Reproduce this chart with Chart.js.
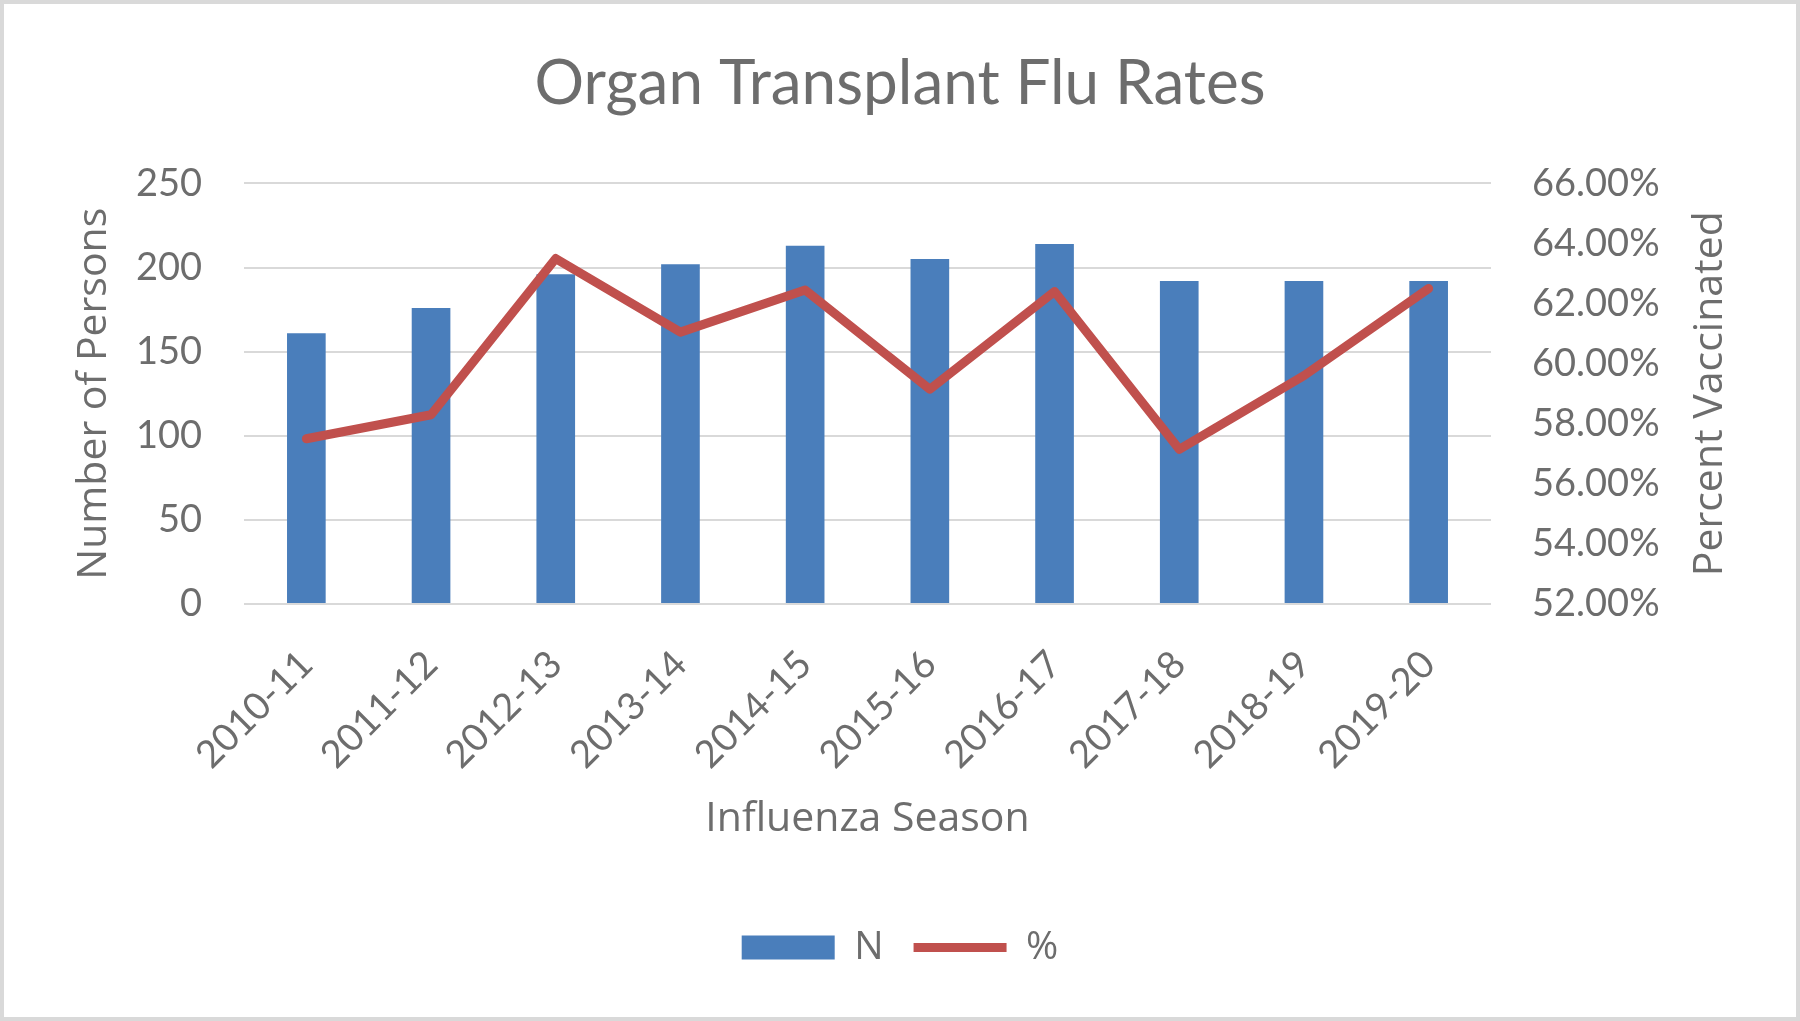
<!DOCTYPE html>
<html>
<head>
<meta charset="utf-8">
<title>Organ Transplant Flu Rates</title>
<script src="https://cdn.jsdelivr.net/npm/chart.js@4"></script>
<style>
  html, body { margin: 0; padding: 0; background: #fff; }
</style>
</head>
<body>
<canvas id="fluChart" width="1800" height="1021"></canvas>
<script>
const seasons = ["2010-11", "2011-12", "2012-13", "2013-14", "2014-15",
  "2015-16", "2016-17", "2017-18", "2018-19", "2019-20"];
const persons = [161, 176, 196, 202, 213, 205, 214, 192, 192, 192];
const pctVaccinated = [57.5, 58.3, 63.5, 61.05, 62.45, 59.15, 62.4, 57.15, 59.6, 62.5];
const personTicks = [0, 50, 100, 150, 200, 250];
const pctTicks = [52, 54, 56, 58, 60, 62, 64, 66];

const textColor = "#6d6d6d";
const rightTitle = "Percent Vaccinated";

// light grey frame around the whole chart
const frame = {
  id: "frame",
  afterDraw(chart) {
    const ctx = chart.ctx;
    ctx.save();
    ctx.strokeStyle = "#d9d9d9";
    ctx.lineWidth = 4;
    ctx.strokeRect(2, 2, chart.width - 4, chart.height - 4);
    ctx.restore();
  },
};

// right axis title reads bottom-to-top like the left one
const rightAxisTitle = {
  id: "rightAxisTitle",
  afterDraw(chart) {
    const ctx = chart.ctx;
    const area = chart.chartArea;
    ctx.save();
    ctx.translate(1710, (area.top + area.bottom) / 2);
    ctx.rotate(-Math.PI / 2);
    ctx.font = "41px 'Open Sans'";
    ctx.fillStyle = textColor;
    ctx.textAlign = "center";
    ctx.textBaseline = "middle";
    ctx.fillText(rightTitle, 0, 0);
    ctx.restore();
  },
};

const ctx = document.getElementById("fluChart").getContext("2d");
new Chart(ctx, {
  data: {
    labels: seasons,
    datasets: [
      {
        type: "bar",
        label: "N",
        data: persons,
        yAxisID: "y",
        backgroundColor: "#4A7EBB",
        barPercentage: 0.31,
        categoryPercentage: 1,
        pointStyle: "rect",
        order: 1,
      },
      {
        type: "line",
        label: "%",
        data: pctVaccinated,
        yAxisID: "y1",
        borderColor: "#C0504D",
        backgroundColor: "#C0504D",
        borderWidth: 9,
        borderJoinStyle: "round",
        borderCapStyle: "round",
        pointRadius: 0,
        pointStyle: "line",
        tension: 0,
        order: 0,
      },
    ],
  },
  options: {
    responsive: false,
    animation: false,
    layout: { padding: { left: 0, right: 0, top: 0, bottom: 44 } },
    plugins: {
      title: {
        display: true,
        text: "Organ Transplant Flu Rates",
        color: textColor,
        font: { family: "Lato", size: 62, weight: "normal" },
        padding: { top: 47, bottom: 62 },
      },
      legend: {
        position: "bottom",
        labels: {
          usePointStyle: true,
          pointStyleWidth: 93,
          boxHeight: 24,
          color: textColor,
          font: { family: "Open Sans", size: 39 },
          padding: 30,
          sort: (a, b) => a.datasetIndex - b.datasetIndex,
        },
      },
      tooltip: { enabled: false },
    },
    scales: {
      x: {
        grid: { display: false },
        border: { display: false },
        ticks: {
          color: textColor,
          font: { family: "Lato", size: 38 },
          minRotation: 45,
          maxRotation: 45,
          autoSkip: false,
          padding: 30,
        },
        title: {
          display: true,
          text: "Influenza Season",
          color: textColor,
          font: { family: "Open Sans", size: 41 },
          padding: { top: 0, bottom: 54 },
        },
        afterFit: (s) => { s.height = 294; },
      },
      y: {
        position: "left",
        min: 0,
        max: 250,
        afterBuildTicks: (s) => { s.ticks = personTicks.map((v) => ({ value: v })); },
        grid: { color: "#d9d9d9", lineWidth: 2, drawTicks: false },
        border: { display: false },
        ticks: {
          color: textColor,
          font: { family: "Lato", size: 38 },
          padding: 42,
        },
        title: {
          display: true,
          text: "Number of Persons",
          color: textColor,
          font: { family: "Open Sans", size: 41 },
          padding: { top: 70, bottom: 0 },
        },
        afterFit: (s) => { s.width = 244; },
      },
      y1: {
        position: "right",
        min: 52,
        max: 66,
        afterBuildTicks: (s) => { s.ticks = pctTicks.map((v) => ({ value: v })); },
        grid: { display: false, drawTicks: false },
        border: { display: false },
        ticks: {
          color: textColor,
          font: { family: "Lato", size: 38 },
          padding: 41,
          callback: (v) => v.toFixed(2) + "%",
        },
        afterFit: (s) => { s.width = 309; },
      },
    },
  },
  plugins: [frame, rightAxisTitle],
});
</script>
</body>
</html>
